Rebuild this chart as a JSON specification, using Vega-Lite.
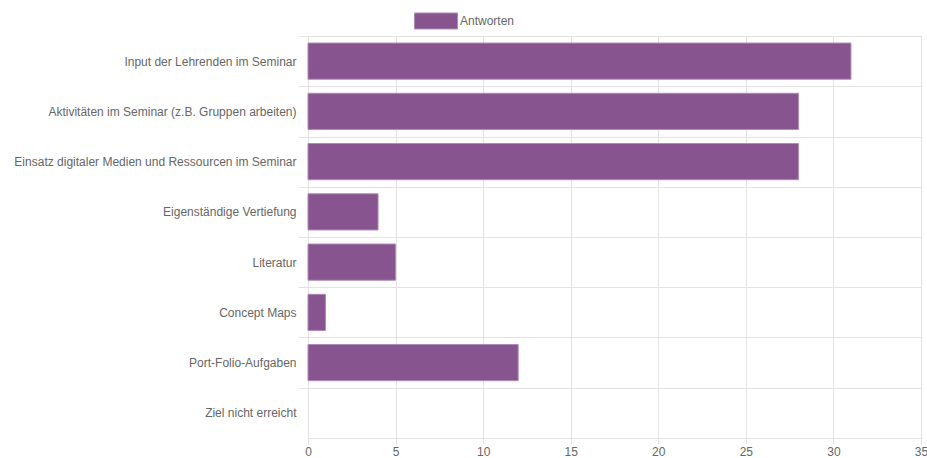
{
  "$schema": "https://vega.github.io/schema/vega-lite/v6.json",
  "autosize": {"type": "none"},
  "width": 613,
  "height": 402,
  "padding": {"left": 308, "top": 36, "right": 6, "bottom": 20},
  "background": "white",
  "config": {
    "font": "Liberation Sans",
    "view": {"stroke": "#e3e3e3", "strokeWidth": 1}
  },
  "data": {
    "values": [
      {"category": "Input der Lehrenden im Seminar", "value": 31, "series": "Antworten"},
      {"category": "Aktivitäten im Seminar (z.B. Gruppen arbeiten)", "value": 28, "series": "Antworten"},
      {"category": "Einsatz digitaler Medien und Ressourcen im Seminar", "value": 28, "series": "Antworten"},
      {"category": "Eigenständige Vertiefung", "value": 4, "series": "Antworten"},
      {"category": "Literatur", "value": 5, "series": "Antworten"},
      {"category": "Concept Maps", "value": 1, "series": "Antworten"},
      {"category": "Port-Folio-Aufgaben", "value": 12, "series": "Antworten"},
      {"category": "Ziel nicht erreicht", "value": 0, "series": "Antworten"}
    ]
  },
  "mark": {"type": "bar", "stroke": "#b08ab8", "strokeWidth": 1},
  "encoding": {
    "y": {
      "field": "category",
      "type": "nominal",
      "sort": null,
      "scale": {"paddingInner": 0.28, "paddingOuter": 0.14},
      "axis": {
        "title": null,
        "domain": false,
        "grid": true,
        "gridColor": "#e3e3e3",
        "bandPosition": 0.5,
        "tickOffset": -25.125,
        "labelOffset": 25.125,
        "ticks": true,
        "tickSize": 10,
        "tickColor": "#e3e3e3",
        "labelPadding": 2,
        "labelFontSize": 12,
        "labelColor": "#666666",
        "labelLimit": 400
      }
    },
    "x": {
      "field": "value",
      "type": "quantitative",
      "scale": {"domain": [0, 35], "nice": false},
      "axis": {
        "title": null,
        "domain": false,
        "values": [0, 5, 10, 15, 20, 25, 30, 35],
        "grid": true,
        "gridColor": "#e3e3e3",
        "tickColor": "#e3e3e3",
        "tickSize": 6,
        "labelPadding": 2,
        "labelFontSize": 12,
        "labelColor": "#666666",
        "labelFlush": false,
        "labelOverlap": false
      }
    },
    "strokeOpacity": {
      "condition": {"test": "datum.value === 0", "value": 0},
      "value": 1
    },
    "color": {
      "field": "series",
      "type": "nominal",
      "scale": {"range": ["#87548f"]},
      "legend": {
        "title": null,
        "orient": "none",
        "legendX": 106,
        "legendY": -37,
        "padding": 0,
        "symbolType": "M-1,-0.372H1V0.372H-1Z",
        "symbolSize": 1849,
        "symbolStrokeColor": "#b08ab8",
        "symbolStrokeWidth": 1,
        "symbolOpacity": 1,
        "labelFontSize": 12,
        "labelColor": "#666666",
        "labelOffset": 2
      }
    }
  }
}
